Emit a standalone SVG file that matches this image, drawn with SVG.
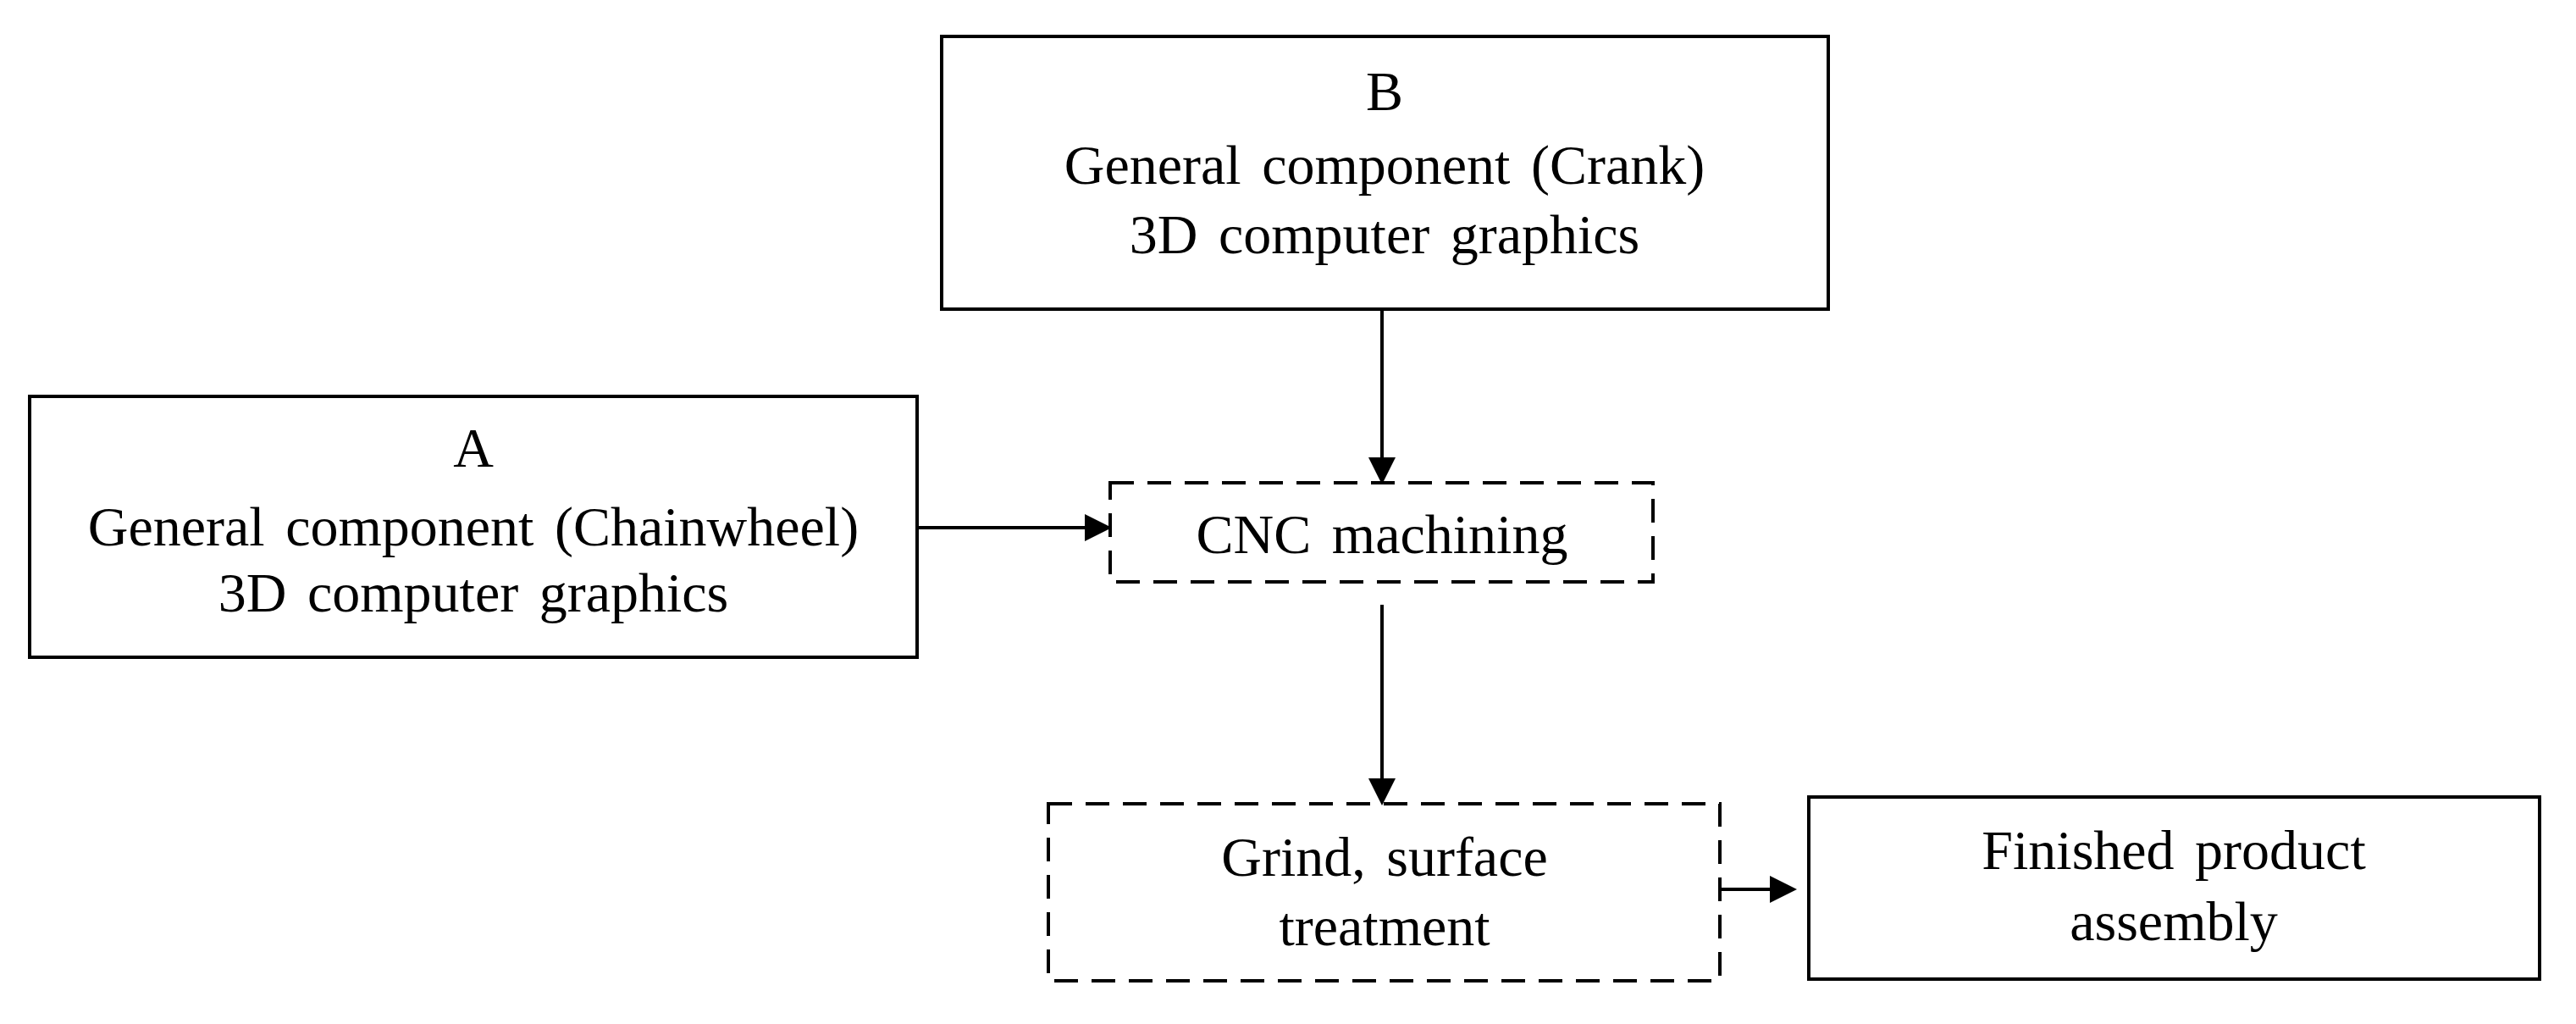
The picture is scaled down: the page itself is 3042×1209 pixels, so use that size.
<svg xmlns="http://www.w3.org/2000/svg" width="3042" height="1209" viewBox="0 0 3042 1209">
<defs>
<marker id="ah" markerWidth="8" markerHeight="8" refX="7" refY="4" orient="auto" markerUnits="strokeWidth"><path d="M0,0 L8,4 L0,8 Z" fill="#000"/></marker>
<style>
.box{fill:#fff;stroke:#000;stroke-width:4}
.dash{fill:#fff;stroke:#000;stroke-width:4;stroke-dasharray:28,16}
text{font-family:"Liberation Serif","Times New Roman",serif;font-size:66px;text-anchor:middle;fill:#000;word-spacing:8px}
.c{stroke:#000;stroke-width:4;fill:none;marker-end:url(#ah)}
</style>
</defs>
<rect width="3042" height="1209" fill="#fff"/>
<g id="nodeB"><rect class="box" x="1112" y="43" width="1047" height="322"/>
<text x="1635" y="130">B</text><text x="1635" y="217">General component (Crank)</text><text x="1635" y="299">3D computer graphics</text></g>
<g id="nodeA"><rect class="box" x="35" y="468" width="1048" height="308"/>
<text x="559" y="551">A</text><text x="559" y="644">General component (Chainwheel)</text><text x="559" y="722">3D computer graphics</text></g>
<g id="nodeCNC"><rect class="dash" x="1311" y="570" width="641" height="117"/>
<text x="1632" y="653">CNC machining</text></g>
<g id="nodeGrind"><rect class="dash" x="1238" y="949" width="793" height="209"/>
<text x="1635" y="1034">Grind, surface</text><text x="1635" y="1116">treatment</text></g>
<g id="nodeFinished"><rect class="box" x="2136" y="941" width="863" height="215"/>
<text x="2567" y="1026">Finished product</text><text x="2567" y="1110">assembly</text></g>
<g id="connectors">
<line class="c" x1="1632" y1="365" x2="1632" y2="568"/>
<line class="c" x1="1083" y1="623" x2="1309" y2="623"/>
<line class="c" x1="1632" y1="714" x2="1632" y2="947"/>
<line class="c" x1="2033" y1="1050" x2="2118" y2="1050"/>
</g>
</svg>
